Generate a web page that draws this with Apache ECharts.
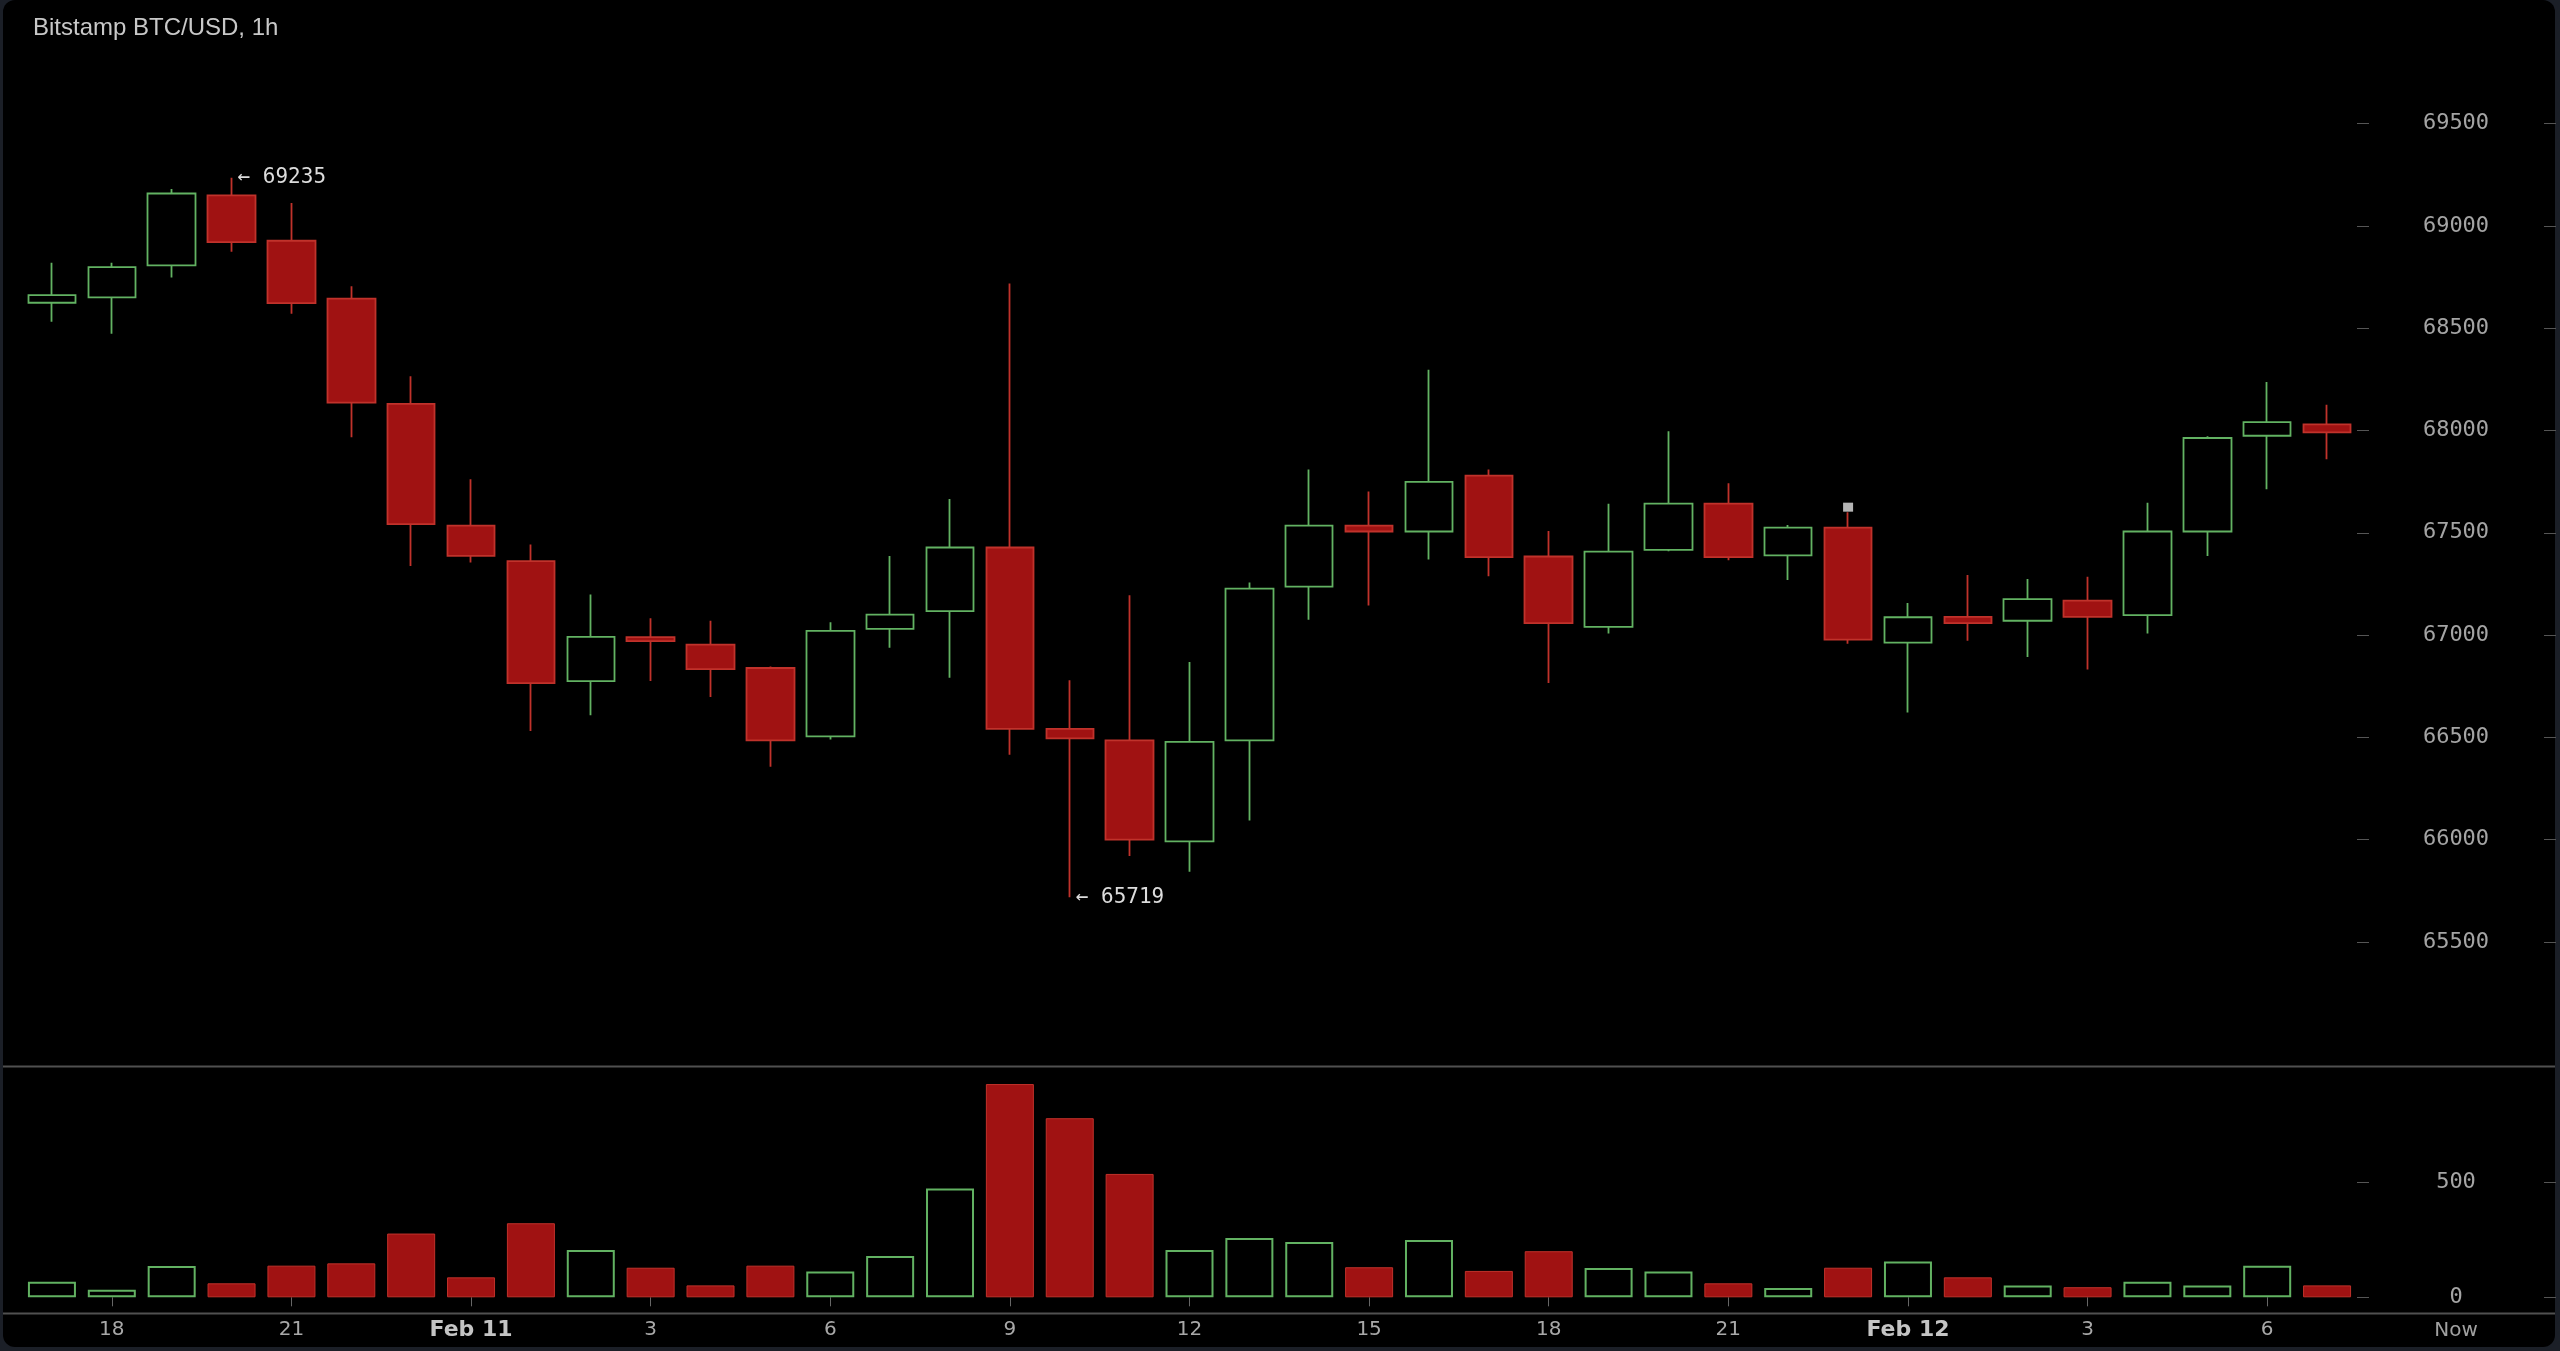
<!DOCTYPE html>
<html>
<head>
<meta charset="utf-8">
<script src="https://cdn.jsdelivr.net/npm/echarts@6.0.0/dist/echarts.min.js"></script>
<style>
  html, body { margin: 0; padding: 0; background: #1b1f27; overflow: hidden; }
  #frame { position: absolute; left: 3px; top: 0; right: 5px; bottom: 4px; background: #000; border-radius: 12px; }
  #chart { position: absolute; left: 0; top: 0; width: 2560px; height: 1351px; }
</style>
</head>
<body>
<div id="frame"></div>
<div id="chart"></div>
<script>
// hourly candles, Feb 10 17:00 -> Feb 12 07:00
const hours = [
  '17', '18', '19', '20', '21', '22', '23',
  'Feb 11', '1', '2', '3', '4', '5', '6', '7', '8', '9', '10', '11', '12',
  '13', '14', '15', '16', '17', '18', '19', '20', '21', '22', '23',
  'Feb 12', '1', '2', '3', '4', '5', '6', '7',
];
const opens = [
  68624, 68650, 68807, 69149, 68927, 68644, 68130, 67535, 67361, 66775,
  66990, 66953, 66839, 66505, 67030, 67117, 67428, 66542, 66485, 65992,
  66485, 67237, 67535, 67506, 67779, 67384, 67040, 67416, 67642, 67389,
  67525, 66963, 67089, 67070, 67168, 67097, 67506, 67974, 68030,
];
const closes = [
  68661, 68798, 69158, 68920, 68622, 68136, 67542, 67387, 66765, 66991,
  66970, 66834, 66485, 67020, 67100, 67428, 66542, 66495, 66000, 66478,
  67227, 67535, 67506, 67749, 67381, 67058, 67408, 67642, 67381, 67525,
  66978, 67087, 67058, 67176, 67089, 67506, 67963, 68041, 67991,
];
const lows = [
  68531, 68472, 68748, 68873, 68570, 67967, 67337, 67355, 66531, 66608,
  66776, 66697, 66356, 66490, 66938, 66791, 66415, 65719, 65920, 65843,
  66094, 67075, 67145, 67369, 67287, 66766, 67008, 67410, 67366, 67269,
  66958, 66622, 66972, 66893, 66832, 67008, 67386, 67713, 67859,
];
const highs = [
  68820, 68820, 69180, 69235, 69112, 68705, 68265, 67762, 67442, 67198,
  67082, 67070, 66846, 67063, 67386, 67665, 68718, 66779, 67194, 66868,
  67257, 67809, 67702, 68297, 67809, 67508, 67642, 67996, 67742, 67538,
  67600, 67157, 67294, 67274, 67285, 67646, 67971, 68237, 68125,
];
const volumes = [
  68, 33, 137, 61, 138, 148, 278, 87, 323, 206,
  129, 52, 138, 112, 180, 475, 930, 781, 538, 206,
  259, 241, 131, 250, 115, 201, 128, 112, 61, 41,
  129, 156, 87, 51, 44, 68, 51, 138, 52,
];
const priceTicks = [65500, 66000, 66500, 67000, 67500, 68000, 68500, 69000, 69500];
const volumeTicks = [0, 500];
// small grey event marker on top of a wick: [candle index, price]
const eventMarks = [[30, 67625]];

const UP = '#62b262';
const DOWN_FILL = '#a01212';
const DOWN_LINE = '#c0322b';
const AXIS_GREY = '#555';

const chart = echarts.init(document.getElementById('chart'));

const candles = opens.map((o, i) => [o, closes[i], lows[i], highs[i]]);
const volumeItems = volumes.map((v, i) => (closes[i] > opens[i]
  ? { value: v, itemStyle: { color: 'rgba(0,0,0,0)', borderColor: UP, borderWidth: 2 } }
  : { value: v, itemStyle: { color: DOWN_FILL, borderColor: DOWN_LINE, borderWidth: 1 } }));
const everyThird = (i) => (i - 1) % 3 === 0;

const rightAxis = (gridIndex, min, max, ticks, withLabels) => ({
  type: 'value',
  gridIndex,
  position: 'right',
  offset: withLabels ? 0 : 199,
  min,
  max,
  interval: 500,
  splitLine: { show: false },
  axisLine: { show: false },
  axisTick: {
    show: true,
    inside: !withLabels,
    length: 12,
    customValues: ticks,
    lineStyle: { color: AXIS_GREY, width: 1 },
  },
  axisLabel: {
    show: withLabels,
    customValues: ticks,
    margin: 99,
    align: 'center',
    color: '#a4a4a4',
    fontFamily: 'DejaVu Sans Mono',
    fontSize: 22,
    formatter: (v) => String(v),
  },
});

const option = {
  backgroundColor: 'transparent',
  animation: false,
  title: {
    text: 'Bitstamp BTC/USD, 1h',
    left: 28,
    top: 11,
    textStyle: { color: '#c8c8c8', fontFamily: 'Liberation Sans', fontSize: 24, fontWeight: 'normal' },
  },
  grid: [
    { left: 22, right: 203, top: 123.5, height: 818.5 },
    { left: 22, right: 203, top: 1068, height: 229.3 },
  ],
  xAxis: [
    { type: 'category', gridIndex: 0, data: hours, show: false },
    {
      type: 'category',
      gridIndex: 1,
      data: hours,
      offset: 16,
      axisLine: { show: false },
      axisTick: {
        show: true,
        alignWithLabel: true,
        interval: everyThird,
        length: 9,
        lineStyle: { color: '#666' },
      },
      axisLabel: {
        interval: everyThird,
        margin: 6,
        color: '#a8a8a8',
        fontFamily: 'DejaVu Sans',
        fontSize: 20,
        formatter: (v) => (v.startsWith('Feb') ? '{b|' + v + '}' : v),
        rich: {
          b: { fontWeight: 'bold', color: '#c4c4c4', fontFamily: 'DejaVu Sans', fontSize: 22 },
        },
      },
    },
  ],
  yAxis: [
    rightAxis(0, 65500, 69500, priceTicks, true),
    rightAxis(0, 65500, 69500, priceTicks, false),
    rightAxis(1, 0, 1000, volumeTicks, true),
    rightAxis(1, 0, 1000, volumeTicks, false),
  ],
  graphic: [
    { type: 'line', shape: { x1: 3, y1: 1066.5, x2: 2555, y2: 1066.5 }, style: { stroke: '#505050', lineWidth: 2 } },
    { type: 'line', shape: { x1: 3, y1: 1313.5, x2: 2555, y2: 1313.5 }, style: { stroke: '#505050', lineWidth: 2 } },
    {
      type: 'text',
      x: 2456,
      y: 1331,
      style: { text: 'Now', fill: '#a0a0a0', font: '20px "DejaVu Sans"', align: 'center', verticalAlign: 'middle' },
    },
  ],
  series: [
    {
      type: 'candlestick',
      xAxisIndex: 0,
      yAxisIndex: 0,
      data: candles,
      barWidth: 48,
      itemStyle: {
        color: 'rgba(0,0,0,0)',
        color0: DOWN_FILL,
        borderColor: UP,
        borderColor0: DOWN_LINE,
        borderWidth: 1.8,
      },
      markPoint: {
        symbol: 'rect',
        symbolSize: 0,
        silent: true,
        label: {
          show: true,
          position: 'right',
          distance: 6,
          color: '#dcdcdc',
          fontFamily: 'DejaVu Sans Mono',
          fontSize: 21,
          formatter: (p) => '← ' + p.value,
        },
        data: [
          { type: 'max', valueDim: 'highest' },
          { type: 'min', valueDim: 'lowest' },
          ...eventMarks.map(([i, v]) => ({
            coord: [i, v],
            symbol: 'rect',
            symbolSize: [10, 9],
            itemStyle: { color: '#b5b5b5' },
            label: { show: false },
          })),
        ],
      },
    },
    {
      type: 'bar',
      xAxisIndex: 1,
      yAxisIndex: 2,
      data: volumeItems,
      barWidth: 48,
    },
  ],
};

chart.setOption(option);
</script>
</body>
</html>
